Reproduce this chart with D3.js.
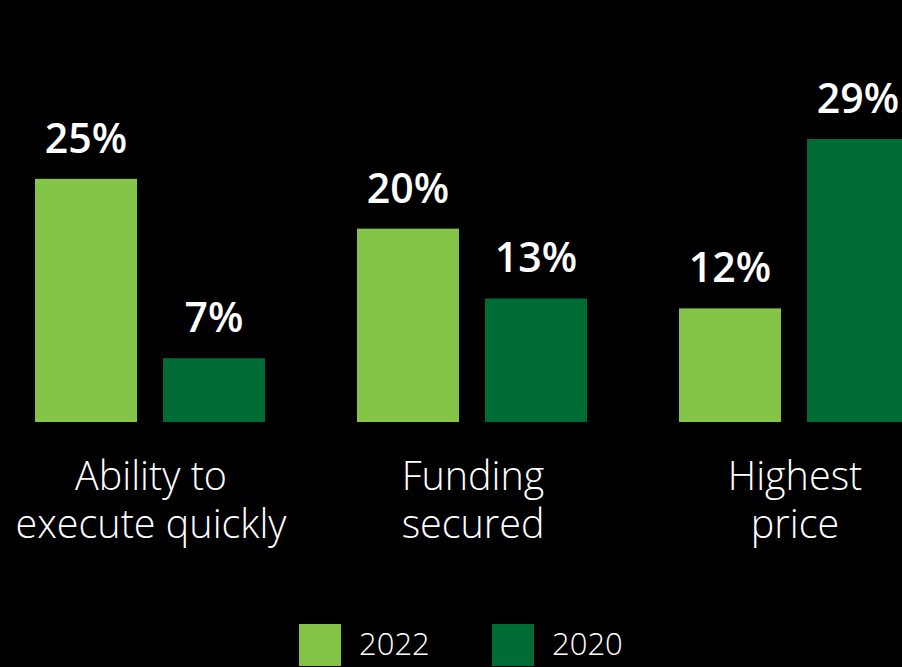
<!doctype html>
<html>
<head>
<style>
  body { margin: 0; background: #000; }
  svg { display: block; }
</style>
<script src="https://d3js.org/d3.v7.min.js"></script>
</head>
<body>
<svg width="902" height="667"></svg>
<script>
// data
var categories = [["Ability to", "execute quickly"], ["Funding", "secured"], ["Highest", "price"]];
var series = ["2022", "2020"];
var values2022 = [25, 20, 12];
var values2020 = [7, 13, 29];
var colors = ["#84c446", "#006c35"];

var svg = d3.select("svg").style("background-color", "#000");
var baseline = 422;

var catKeys = categories.map(function(c) { return c.join(" "); });

var x0 = d3.scaleBand()
    .domain(catKeys)
    .range([35, 909])
    .paddingInner(0.2857)
    .paddingOuter(0);

var x1 = d3.scaleBand()
    .domain(series)
    .range([0, x0.bandwidth()])
    .paddingInner(0.203);

var y = d3.scaleLinear()
    .domain([0, 30])
    .range([428, 129]);

var color = d3.scaleOrdinal().domain(series).range(colors);

var rows = [];
catKeys.forEach(function(k, i) {
    rows.push({ cat: k, s: "2022", v: values2022[i] });
    rows.push({ cat: k, s: "2020", v: values2020[i] });
});

var g = svg.append("g");

g.selectAll(".bar")
    .data(rows)
    .enter()
    .append("rect")
    .attr("class", "bar")
    .attr("x", function(d) { return x0(d.cat) + x1(d.s); })
    .attr("y", function(d) { return y(d.v); })
    .attr("width", x1.bandwidth())
    .attr("height", function(d) { return baseline - y(d.v); })
    .attr("fill", function(d) { return color(d.s); });

// value labels
g.selectAll(".val")
    .data(rows)
    .enter()
    .append("text")
    .attr("x", function(d) { return x0(d.cat) + x1(d.s) + x1.bandwidth() / 2; })
    .attr("y", function(d) { return y(d.v) - 26; })
    .attr("text-anchor", "middle")
    .attr("fill", "#fff")
    .attr("font-family", "'Open Sans', sans-serif")
    .attr("font-weight", 600)
    .attr("font-size", "41px")
    .text(function(d) { return d.v + "%"; });

// category labels
var cl = g.selectAll(".cat")
    .data(categories)
    .enter()
    .append("text")
    .attr("text-anchor", "middle")
    .attr("fill", "#fff")
    .attr("font-family", "'Open Sans', sans-serif")
    .attr("font-weight", 300)
    .attr("font-size", "39.5px")
    .attr("transform", function(d, i) {
        return "translate(" + (x0(catKeys[i]) + x0.bandwidth() / 2 + 1) + ",490)";
    });

cl.selectAll("tspan")
    .data(function(d) { return d; })
    .enter()
    .append("tspan")
    .attr("x", 0)
    .attr("dy", function(d, i) { return i === 0 ? 0 : 48; })
    .text(function(d) { return d; });

// legend
var legendX = d3.scalePoint().domain(series).range([299, 492]);

var lg = svg.selectAll(".legend")
    .data(series)
    .enter()
    .append("g")
    .attr("transform", function(d) { return "translate(" + legendX(d) + ",624)"; });

lg.append("rect")
    .attr("width", 42)
    .attr("height", 42)
    .attr("fill", function(d) { return color(d); });

lg.append("text")
    .attr("x", 60)
    .attr("y", 31)
    .attr("fill", "#fff")
    .attr("font-family", "'Open Sans', sans-serif")
    .attr("font-weight", 300)
    .attr("font-size", "31px")
    .text(function(d) { return d; });
</script>
</body>
</html>
